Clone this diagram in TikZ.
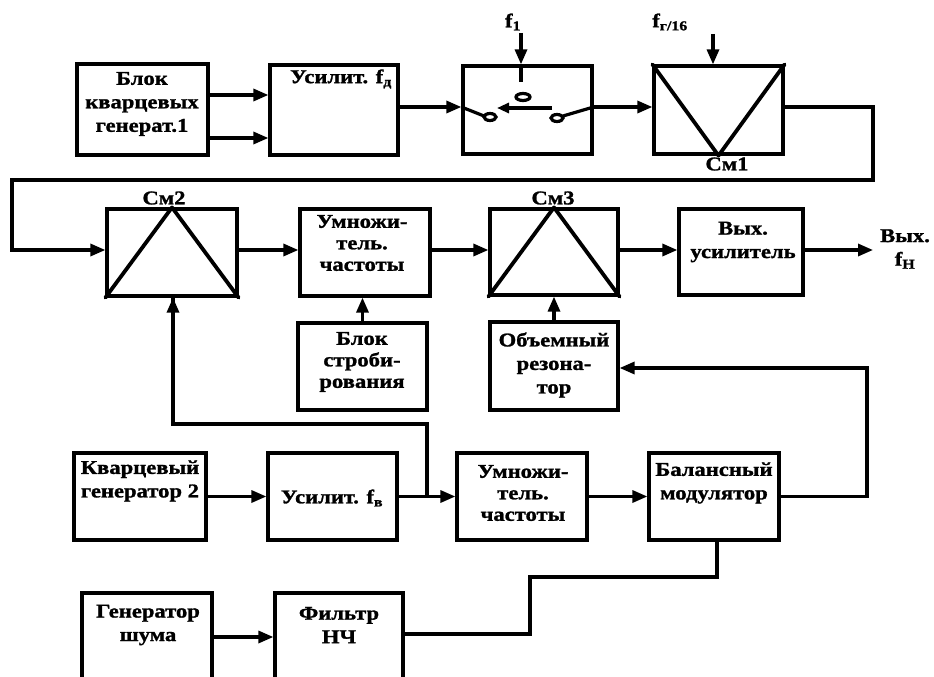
\documentclass[tikz,border=0pt]{standalone}
\usepackage{fontspec}
\setmainfont{Liberation Serif}
\newfontfamily\dfont{Liberation Serif}[FakeStretch=1.16,FakeBold=1.3]
\usetikzlibrary{arrows.meta}
\begin{document}
\begin{tikzpicture}[x=1pt,y=-1pt,
  box/.style={draw, line width=3.2pt, inner sep=0pt},
  ln/.style={line width=3.2pt, line join=miter},
  tri/.style={line width=3.8pt, line join=round, line cap=round},
  arr/.style={ln, -{Triangle[length=15pt,width=12pt]}},
  sarr/.style={ln, -{Triangle[length=12pt,width=10pt]}},
  txt/.style={font=\dfont\fontsize{19.5}{23.5}\selectfont\bfseries, align=center, inner sep=0pt},
  ttxt/.style={font=\dfont\fontsize{19.5}{21.5}\selectfont\bfseries, align=center, inner sep=0pt}]
\useasboundingbox (0,0) rectangle (934,677);
\clip (0,0) rectangle (934,677);
% boxes
\node[box, minimum width=131pt, minimum height=91pt] (b1) at (142.5,109.5) {};
\node[box, minimum width=128pt, minimum height=90pt] (b2) at (334,110) {};
\node[box, minimum width=129pt, minimum height=88pt] (sw) at (527.5,110) {};
\node[box, minimum width=129pt, minimum height=88pt] (cm1) at (718.5,110) {};
\node[box, minimum width=130pt, minimum height=87pt] (cm2) at (172,252.5) {};
\node[box, minimum width=130pt, minimum height=87pt] (um1) at (365,252.5) {};
\node[box, minimum width=129pt, minimum height=87pt] (strob) at (362.5,366.5) {};
\node[box, minimum width=128pt, minimum height=86pt] (cm3) at (554,252) {};
\node[box, minimum width=124pt, minimum height=86pt] (vyh) at (741,252) {};
\node[box, minimum width=128pt, minimum height=88pt] (rez) at (554,366) {};
\node[box, minimum width=132pt, minimum height=87pt] (kg2) at (140,496.5) {};
\node[box, minimum width=129pt, minimum height=87pt] (us2) at (332.5,496.5) {};
\node[box, minimum width=130pt, minimum height=87pt] (um2) at (522,496.5) {};
\node[box, minimum width=130pt, minimum height=87pt] (bal) at (714,496.5) {};
\node[box, minimum width=130pt, minimum height=97pt] (gen) at (147,641.5) {};
\node[box, minimum width=128pt, minimum height=97pt] (fil) at (339,641.5) {};
% mixer triangles
\draw[tri] (cm1.north west) -- (cm1.south) -- (cm1.north east);
\draw[tri] (cm2.south west) -- (cm2.north) -- (cm2.south east);
\draw[tri] (cm3.south west) -- (cm3.north) -- (cm3.south east);
% texts
\node[txt] (t1) at (142,104) {Блок\\кварцевых\\генерат.1};
\node[txt] (t2) at (341,79) {Усилит. f\textsubscript{д}};
\node[txt] (tf1) at (513,22) {f\textsubscript{1}};
\node[txt] (tfg) at (670,22) {f\textsubscript{г/16}};
\node[txt] (tcm1) at (727,164) {См1};
\node[txt] (tcm2) at (164,198) {См2};
\node[txt] (tcm3) at (553,198) {См3};
\node[ttxt] (tum1) at (362,243) {Умножи-\\тель.\\частоты};
\node[ttxt] (tstrob) at (362,362) {Блок\\строби-\\рования};
\node[txt] (tvyh) at (743,242) {Вых.\\усилитель};
\node[txt] (tout) at (905,249) {Вых.\\f\textsubscript{Н}};
\node[txt] (trez) at (554,365) {Объемный\\резона-\\тор};
\node[txt] (tkg2) at (140,481) {Кварцевый\\генератор 2};
\node[txt] (tus2) at (332,498) {Усилит. f\textsubscript{в}};
\node[ttxt] (tum2) at (523,493) {Умножи-\\тель.\\частоты};
\node[txt] (tbal) at (714,483) {Балансный\\модулятор};
\node[txt] (tgen) at (148,625) {Генератор\\шума};
\node[txt] (tfil) at (339,625) {Фильтр\\НЧ};
% coordinates for free ends
\coordinate (f1top) at (521,33);
\coordinate (fgtop) at (713,34);
\coordinate (outend) at (873,250);
% connectors
\draw[arr] ([yshift=14.5pt]b1.east) -- ([yshift=14.5pt]b1.east -| b2.west);
\draw[arr] ([yshift=-28.5pt]b1.east) -- ([yshift=-28.5pt]b1.east -| b2.west);
\draw[arr] ([yshift=3pt]b2.east) -- ([yshift=3pt]b2.east -| sw.west);
\draw[arr] (f1top) -- (f1top |- sw.north);
\draw[arr] (fgtop) -- (fgtop |- cm1.north);
\draw[arr] ([yshift=3pt]sw.east) -- ([yshift=3pt]sw.east -| cm1.west);
\draw[arr] ([yshift=3pt]cm1.east) -| (873,180) -| (12,250) -- (12,250 -| cm2.west);
\draw[arr] ([yshift=2.5pt]cm2.east) -- ([yshift=2.5pt]cm2.east -| um1.west);
\draw[arr] ([yshift=2.5pt]um1.east) -- ([yshift=2.5pt]um1.east -| cm3.west);
\draw[arr] ([yshift=2pt]cm3.east) -- ([yshift=2pt]cm3.east -| vyh.west);
\draw[arr] ([yshift=2pt]vyh.east) -- (outend);
\draw[arr] (strob.north) -- (strob.north |- um1.south);
\draw[arr] (rez.north) -- (rez.north |- cm3.south);
\draw[arr] (bal.east) -- (867,496.5) |- ([yshift=-2pt]rez.east);
\draw[arr] (kg2.east) -- (kg2.east -| us2.west);
\draw[arr] (us2.east) -- (us2.east -| um2.west);
\draw[ln] (427,496.5) |- (173,424) -- (173,424 |- cm2.south);
\draw[arr] (173,424) -- (173,424 |- cm2.south);
\draw[arr] (um2.east) -- (um2.east -| bal.west);
\draw[ln] ([xshift=3pt]bal.south) |- (530,577) |- ([yshift=7.5pt]fil.east);
\draw[arr] ([yshift=4.5pt]gen.east) -- ([yshift=4.5pt]gen.east -| fil.west);
% switch internals
\draw[ln] (sw.north -| f1top) -- (521,82);
\draw[ln] (523,97) ellipse (7pt and 3.5pt);
\draw[sarr] (552,108) -- (497,108);
\draw[ln] ([yshift=3pt]sw.west) -- (484,116);
\draw[ln] (490,117) ellipse (6pt and 3.5pt);
\draw[ln] (557,118) ellipse (6pt and 3.5pt);
\draw[ln] (563,116) -- ([yshift=3pt]sw.east);
\end{tikzpicture}
\end{document}
